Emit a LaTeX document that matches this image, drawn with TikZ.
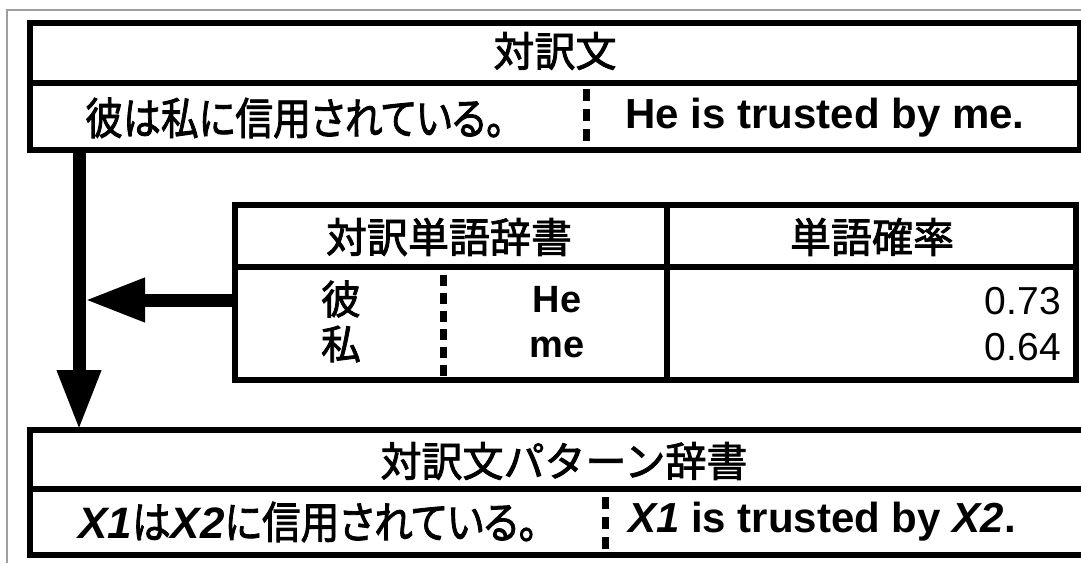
\documentclass[tikz,border=0pt]{standalone}
\usepackage{fontspec}
\setmainfont{Liberation Sans}
\newfontfamily\jp[RawFeature=+palt, FakeBold=2]{Noto Sans CJK JP}
\newfontfamily\jpn[FakeBold=2]{Noto Sans CJK JP}
\usetikzlibrary{arrows.meta}
\newcommand{\hsq}[2][0.86]{\scalebox{#1}[1]{#2}}
\begin{document}
\begin{tikzpicture}[x=1pt,y=-1pt,
  frame/.style={draw, line width=6pt, inner sep=0pt, outer sep=0pt},
  jtitle/.style={font=\jpn\fontsize{41}{41}\selectfont, inner sep=0pt},
  jrow/.style={font=\jp\fontsize{44}{44}\selectfont, inner sep=0pt},
  enrow/.style={font=\bfseries\fontsize{42}{42}\selectfont, inner sep=0pt},
  jcell/.style={font=\jpn\fontsize{40}{40}\selectfont, inner sep=0pt},
  encell/.style={font=\bfseries\fontsize{38}{38}\selectfont, inner sep=0pt},
  numcell/.style={font=\fontsize{39}{39}\selectfont, inner sep=0pt, anchor=east},
  sepline/.style={line width=7pt, dash pattern=on 12pt off 8pt},
  bigarrow/.style={line width=13pt, -{Triangle[length=60pt,width=41pt]}}]
\useasboundingbox (0,0) rectangle (1081,563);
\draw[gray!75, line width=1.5pt] (7,563) -- (7,10) -- (1081,10);

% source sentence pair
\node[frame, minimum width=1050.5pt, minimum height=60pt] (srchead) at (554.75,52.5) {};
\node[jtitle] (srctitle) at (555,51) {対訳文};
\node[frame, minimum width=1050.5pt, minimum height=67pt] (srcrow) at (554.75,116) {};
\node[jrow] (srcja) at (295,118) {\hsq{彼は私に信用されている。}};
\node[enrow] (srcen) at (825,118) {He is trusted by me.};
\draw[sepline] (586,89) -- (586,141);

% word dictionary
\node[frame, minimum width=432pt, minimum height=62pt] (dicthead) at (451,236) {};
\node[jtitle] (dicttitle) at (449,237) {対訳単語辞書};
\node[frame, minimum width=409pt, minimum height=62pt] (probhead) at (871.5,236) {};
\node[jtitle] (probtitle) at (872,237) {単語確率};
\node[frame, minimum width=432pt, minimum height=113pt] (dictbody) at (451,323.5) {};
\node[frame, minimum width=409pt, minimum height=113pt] (probbody) at (871.5,323.5) {};
\node[jcell] (w1ja) at (341,299) {彼};
\node[jcell] (w2ja) at (341,344) {私};
\node[encell] (w1en) at (557,300) {He};
\node[encell] (w2en) at (557,347) {me};
\node[numcell] (p1) at (1061,301) {0.73};
\node[numcell] (p2) at (1061,347) {0.64};
\draw[sepline, dash pattern=on 11pt off 7pt] (443,275) -- (443,376);

% pattern dictionary
\node[frame, minimum width=1068pt, minimum height=59pt] (pathead) at (564,459.5) {};
\node[jtitle] (pattitle) at (564,461) {対訳文パターン辞書};
\node[frame, minimum width=1068pt, minimum height=66pt] (patrow) at (564,522) {};
\node[jrow] (patja) at (308,522) {{\rmfamily\bfseries\itshape X1}\hsq[0.88]{は}{\rmfamily\bfseries\itshape X2}\hsq[0.88]{に信用されている。}};
\node[enrow] (paten) at (822,522) {\itshape X1\upshape{} is trusted by \itshape X2\upshape.};
\draw[sepline] (605,497) -- (605,549);

% arrows
\coordinate (shaft) at (79,0);
\coordinate (harrow) at (85,300);
\draw[bigarrow] (srcrow.south -| shaft) -- (pathead.north -| shaft);
\draw[bigarrow] (dictbody.west |- harrow) -- (harrow);
\end{tikzpicture}
\end{document}
